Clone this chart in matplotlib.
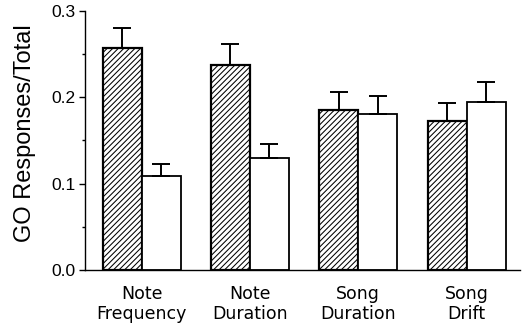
import numpy as np
import matplotlib.pyplot as plt
from matplotlib.ticker import MultipleLocator

# Data
groups = ['Note\nFrequency', 'Note\nDuration', 'Song\nDuration', 'Song\nDrift']
hatched_vals = [0.257, 0.238, 0.185, 0.172]
hatched_err = [0.023, 0.024, 0.021, 0.021]
white_vals = [0.109, 0.130, 0.181, 0.195]
white_err = [0.014, 0.016, 0.021, 0.023]

plt.rcParams['hatch.linewidth'] = 0.75

fig = plt.figure(figsize=(5.24, 3.23), dpi=100)
ax = fig.add_axes([0.1622, 0.1641, 0.8302, 0.8019])

x = np.arange(len(groups))
w = 0.36
ekw = dict(ecolor='black', elinewidth=1.4, capsize=6.8, capthick=1.4)

ax.bar(x - w/2, hatched_vals, w, color='white', edgecolor='black',
       linewidth=1.6, hatch='//////',
       yerr=[np.zeros(len(x)), hatched_err], error_kw=ekw)
ax.bar(x + w/2, white_vals, w, color='white', edgecolor='black',
       linewidth=1.3,
       yerr=[np.zeros(len(x)), white_err], error_kw=ekw)

ax.set_xlim(-0.523, 3.493)
ax.set_ylim(0, 0.3)
ax.yaxis.set_major_locator(MultipleLocator(0.1))
ax.yaxis.set_minor_locator(MultipleLocator(0.05))
ax.set_yticks([0.0, 0.1, 0.2, 0.3])
ax.set_yticklabels(['0.0', '0.1', '0.2', '0.3'], family='Liberation Sans', fontsize=12.5)
ax.tick_params(axis='y', which='major', length=4.5, width=1.0, pad=2.5)
ax.tick_params(axis='y', which='minor', length=2.5, width=1.0)

ax.set_xticks(x)
ax.set_xticklabels(groups, family='DejaVu Sans', fontsize=12.5, linespacing=1.15)
ax.tick_params(axis='x', length=0, pad=10.5)

ax.set_ylabel('GO Responses/Total', family='Liberation Sans', fontsize=17)
ax.yaxis.set_label_coords(-0.112, 0.53)

for s in ['top', 'right']:
    ax.spines[s].set_visible(False)
for s in ['left', 'bottom']:
    ax.spines[s].set_linewidth(1.0)

fig.savefig('out.png', dpi=100)
